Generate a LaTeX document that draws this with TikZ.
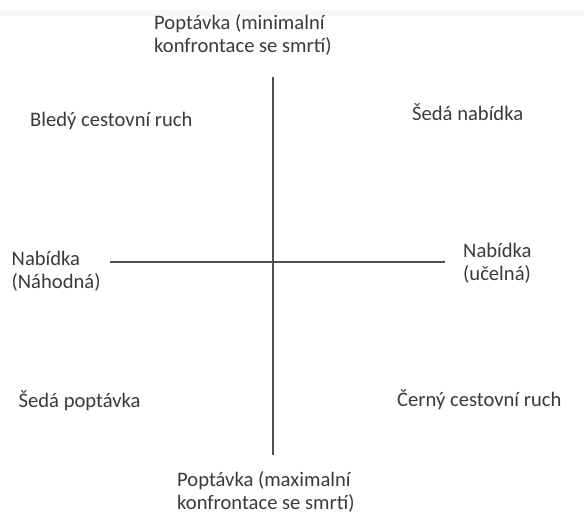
\documentclass[tikz,border=0pt]{standalone}
\usepackage{fontspec}
\setmainfont{Carlito}
\usepackage{xcolor}
\usetikzlibrary{positioning}
\definecolor{AxisGrey}{HTML}{505050}
\definecolor{LabelGrey}{HTML}{3A3A3A}
\definecolor{BandGrey}{HTML}{F6F6F6}
\tikzset{
  axis/.style={draw=AxisGrey,line width=1.9pt},
  label/.style={anchor=base west,inner sep=0pt,align=left,text=LabelGrey,
    font=\fontsize{20.6}{22.5}\selectfont}
}

\begin{document}
\begin{tikzpicture}[x=1pt,y=-1pt]
  \useasboundingbox (0,0) rectangle (584,512);
  \fill[BandGrey] (0,10) rectangle (584,16);
  % axes
  \coordinate (top) at (273.3,77);
  \coordinate (bottom) at (273.3,455);
  \coordinate (left) at (110,262.3);
  \coordinate (right) at (445,262.3);
  \draw[axis] (top)--(bottom);
  \draw[axis] (left)--(right);
  % axis ends (base = last line)
  \node[label] (demmin) at (154,52) {Poptávka (minimalní\\konfrontace se smrtí)};
  \node[label] (demmax) at (177,509) {Poptávka (maximalní\\konfrontace se smrtí)};
  \node[label] (suprand) at (11.5,288) {Nabídka\\(Náhodná)};
  \node[label] (suppurp) at (463,280) {Nabídka\\(učelná)};
  % quadrants
  \node[label] (pale) at (30,126) {Bledý cestovní ruch};
  \node[label] (greysup) at (412,120) {Šedá nabídka};
  \node[label] (greydem) at (18.5,407.5) {Šedá poptávka};
  \node[label] (black) at (397,406) {Černý cestovní ruch};
\end{tikzpicture}
\end{document}
